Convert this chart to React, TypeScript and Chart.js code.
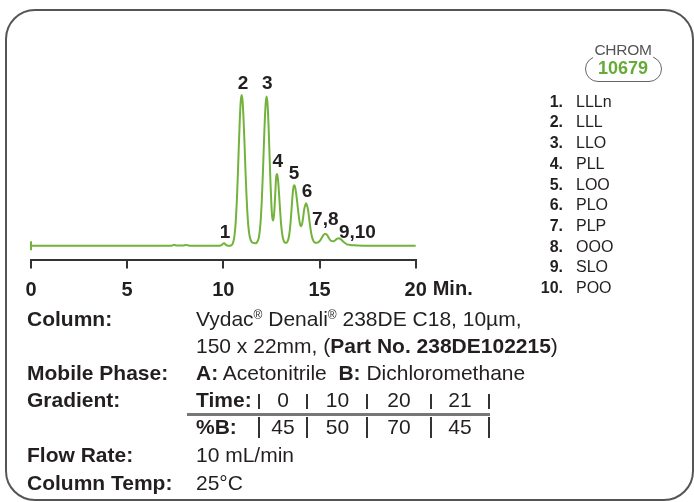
import React, { useEffect, useRef } from 'react';
import { Chart, registerables } from 'chart.js';

Chart.register(...registerables);

const FONT = '"Liberation Sans", Arial, Helvetica, sans-serif';

// Chromatogram trace (minutes, detector response in arbitrary units)
const retentionTimes = [
  0, 7.2, 7.35, 7.45, 7.55, 7.9, 8.05, 8.15, 8.3, 9.8, 9.9, 9.95, 10.0, 10.05, 10.1, 10.15, 10.25, 10.4,
  10.45, 10.5, 10.55, 10.6, 10.65, 10.7, 10.75, 10.8, 10.85, 10.9, 10.95, 11.0, 11.05, 11.1, 11.15, 11.2,
  11.25, 11.3, 11.35, 11.4, 11.45, 11.5, 11.55, 11.6, 11.65, 11.7, 11.75, 11.8, 11.85, 11.9, 11.95, 12.0,
  12.05, 12.1, 12.15, 12.2, 12.25, 12.3, 12.35, 12.4, 12.45, 12.5, 12.55, 12.6, 12.65, 12.7, 12.75, 12.8,
  12.85, 12.9, 12.95, 13.0, 13.05, 13.1, 13.15, 13.2, 13.25, 13.3, 13.35, 13.4, 13.45, 13.5, 13.55, 13.6,
  13.65, 13.7, 13.75, 13.8, 13.85, 13.9, 13.95, 14.0, 14.05, 14.1, 14.15, 14.2, 14.25, 14.3, 14.35, 14.4,
  14.45, 14.5, 14.55, 14.6, 14.65, 14.7, 14.75, 14.8, 14.9, 15.0, 15.1, 15.2, 15.3, 15.4, 15.5, 15.6,
  15.7, 15.8, 15.9, 16.0, 16.1, 16.2, 16.3, 16.4, 16.6, 16.8, 17.0, 17.5, 20,
];
const detectorSignal = [
  0, 0, 0.3, 1, 0.2, 0.2, 0.8, 0.4, 0, 0, 0.5, 1.3, 2.3, 2.4, 1.5, 0.6, 0.1, 0.3,
  1, 2.9, 6.6, 13.7, 25.8, 44, 68.7, 96.6, 123, 143, 150, 144, 126, 102, 75, 51.5,
  32.6, 19.5, 11.4, 7, 4.5, 3.3, 2.8, 2.6, 2.5, 2.5, 3.6, 5.3, 8.9, 15.9, 27.5, 45.5,
  69.5, 96.5, 122.5, 141.5, 148.5, 140.5, 119.5, 91, 62.8, 40.2, 27, 25.1, 34.5, 52.5, 69, 71.5,
  64, 50.5, 35.5, 22, 13, 7.4, 4.5, 3.2, 3, 3.3, 4.8, 8.2, 14.5, 24.5, 37.5, 50.5,
  59, 60.2, 56.5, 50, 41.5, 32.8, 25.3, 20.5, 19.5, 22.3, 28.3, 35.8, 40, 42.3, 40, 36,
  29, 21.3, 14.6, 9.5, 6.3, 4.3, 3.3, 2.9, 3.1, 4.5, 7.25, 10.5, 12, 10.5, 7.25, 4.9,
  4.35, 5.2, 6.8, 7.5, 6.6, 4.7, 3, 1.7, 0.8, 0.4, 0.2, 0, 0,
];
const injectionTimes = [0];
const injectionSignal = [0];

const axisTicks = [0, 5, 10, 15, 20];
const axisUnit = 'Min.';

const peakLabels = ['1', '2', '3', '4', '5', '6', '7,8', '9,10'];
const peakLabelTimes = [10.09, 11.02, 12.28, 12.83, 13.68, 14.35, 15.3, 16.97];
const peakLabelHeights = [12.6, 161, 161, 83.5, 72, 53.5, 26, 12.6];

const compoundNumbers = ['1.', '2.', '3.', '4.', '5.', '6.', '7.', '8.', '9.', '10.'];
const compoundNames = ['LLLn', 'LLL', 'LLO', 'PLL', 'LOO', 'PLO', 'PLP', 'OOO', 'SLO', 'POO'];

const gradientTimes = ['0', '10', '20', '21'];
const gradientPercentB = ['45', '50', '70', '45'];

const TEXT = '#231f20';

const labelPlugin = {
  id: 'peakLabels',
  afterDatasetsDraw(chart: any) {
    const { ctx, scales, chartArea } = chart;
    const x = scales.x;
    const y = scales.y;
    ctx.save();
    ctx.fillStyle = TEXT;
    ctx.font = `bold 19px ${FONT}`;
    ctx.textAlign = 'center';
    ctx.textBaseline = 'middle';
    peakLabels.forEach((t, i) => {
      ctx.fillText(t, x.getPixelForValue(peakLabelTimes[i]), y.getPixelForValue(peakLabelHeights[i]));
    });
    ctx.font = `bold 20px ${FONT}`;
    ctx.textAlign = 'left';
    ctx.fillText(axisUnit, x.getPixelForValue(axisTicks[axisTicks.length - 1]) + 17, chartArea.bottom + 30);
    ctx.restore();
  },
};

function ChromChart() {
  const ref = useRef<HTMLCanvasElement>(null);
  useEffect(() => {
    if (!ref.current) return;
    const chart = new Chart(ref.current, {
      type: 'line',
      data: {
        datasets: [
          {
            data: retentionTimes.map((t, i) => ({ x: t, y: detectorSignal[i] })),
            borderColor: '#72b33c',
            borderWidth: 2,
            pointRadius: 0,
            fill: false,
            cubicInterpolationMode: 'monotone',
            clip: false as any,
          },
          {
            data: injectionTimes.map((t, i) => ({ x: t, y: injectionSignal[i] })),
            showLine: false,
            pointStyle: 'line',
            rotation: 90,
            pointRadius: 4.5,
            borderColor: '#72b33c',
            borderWidth: 2,
            clip: false as any,
          },
        ],
      },
      options: {
        animation: false,
        responsive: false,
        events: [],
        layout: { padding: { left: 31, right: 278.3, top: 70, bottom: 202.5 } },
        plugins: { legend: { display: false }, tooltip: { enabled: false } },
        scales: {
          x: {
            type: 'linear',
            min: 0,
            max: 20,
            afterBuildTicks: (s: any) => {
              s.ticks = axisTicks.map((v) => ({ value: v }));
            },
            afterFit: (s: any) => {
              s.height = 40;
            },
            grid: { drawOnChartArea: false, drawTicks: true, tickLength: 9, color: '#333', lineWidth: 2 },
            border: { display: true, color: '#333', width: 2 },
            ticks: {
              color: TEXT,
              font: { family: FONT, size: 20, weight: 'bold' },
              padding: 10,
              maxRotation: 0,
              callback: (v: any) => String(v),
            },
          },
          y: { type: 'linear', display: false, min: -13.7, max: 175 },
        },
      },
      plugins: [labelPlugin],
    } as any);
    return () => chart.destroy();
  }, []);
  return (
    <canvas
      ref={ref}
      width={694}
      height={502}
      style={{ position: 'absolute', left: 0, top: 0, width: 694, height: 502 }}
    />
  );
}

const abs = (left: number, centerY: number, extra: React.CSSProperties = {}): React.CSSProperties => ({
  position: 'absolute',
  left,
  top: centerY - 12,
  lineHeight: '24px',
  whiteSpace: 'nowrap',
  ...extra,
});

const Reg = () => <span style={{ fontSize: 12, position: 'relative', top: -7 }}>®</span>;

export default function App() {
  const rows = [319, 346, 373, 400, 427, 455, 483];
  const seps = [259.3, 307.3, 367.3, 431, 489];
  const centers = [283, 337.5, 399, 460];
  const labelStyle: React.CSSProperties = { fontWeight: 'bold', fontSize: 21 };
  const valStyle: React.CSSProperties = { fontSize: 21 };
  return (
    <div
      style={{
        position: 'absolute',
        left: 0,
        top: 0,
        width: 694,
        height: 502,
        background: '#fff',
        overflow: 'hidden',
        fontFamily: FONT,
        color: TEXT,
      }}
    >
      <div
        style={{
          position: 'absolute',
          left: 5,
          top: 9,
          width: 689,
          height: 492,
          boxSizing: 'border-box',
          border: '2px solid #555',
          borderRadius: 30,
        }}
      />
      <ChromChart />

      {/* badge */}
      <div
        style={{
          position: 'absolute',
          left: 585,
          top: 56,
          width: 77,
          height: 26,
          boxSizing: 'border-box',
          border: '1.5px solid #666',
          borderRadius: 13,
        }}
      />
      <div style={{ position: 'absolute', left: 592, top: 41, width: 62, textAlign: 'center', lineHeight: '18px' }}>
        <span style={{ background: '#fff', fontSize: 15.5, color: '#555', letterSpacing: -0.3, padding: '0 1px' }}>CHROM</span>
      </div>
      <div
        style={{
          position: 'absolute',
          left: 593,
          top: 57,
          width: 60,
          textAlign: 'center',
          lineHeight: '22px',
          fontSize: 18,
          fontWeight: 'bold',
          color: '#66aa3a',
        }}
      >
        10679
      </div>

      {/* compound legend */}
      {compoundNames.map((name, i) => {
        const cy = 101.7 + 20.7 * i;
        return (
          <React.Fragment key={name + i}>
            <div
              style={{
                position: 'absolute',
                left: 523,
                width: 40,
                textAlign: 'right',
                top: cy - 10,
                lineHeight: '20px',
                fontSize: 16,
                fontWeight: 'bold',
              }}
            >
              {compoundNumbers[i]}
            </div>
            <div style={{ position: 'absolute', left: 576, top: cy - 10, lineHeight: '20px', fontSize: 16 }}>{name}</div>
          </React.Fragment>
        );
      })}

      {/* conditions */}
      <div style={abs(27, rows[0], labelStyle)}>Column:</div>
      <div style={abs(196, rows[0], valStyle)}>
        Vydac<Reg /> Denali<Reg /> 238DE C18, 10µm,
      </div>
      <div style={abs(196, rows[1], valStyle)}>
        150 x 22mm, (<b>Part No. 238DE102215</b>)
      </div>
      <div style={abs(27, rows[2], labelStyle)}>Mobile Phase:</div>
      <div style={abs(196, rows[2], valStyle)}>
        <b>A:</b> Acetonitrile&nbsp; <b>B:</b> Dichloromethane
      </div>
      <div style={abs(27, rows[3], labelStyle)}>Gradient:</div>
      <div style={abs(196, rows[3], labelStyle)}>Time:</div>
      <div style={abs(196, rows[4], labelStyle)}>%B:</div>
      <div
        style={{ position: 'absolute', left: 187, top: 413, width: 303, height: 2.5, background: '#777' }}
      />
      {seps.map((sx, i) => (
        <React.Fragment key={'s' + i}>
          <div style={{ position: 'absolute', left: sx - 1, top: 394, width: 2, height: 15, background: '#333' }} />
          <div style={{ position: 'absolute', left: sx - 1, top: 417, width: 2, height: 21, background: '#333' }} />
        </React.Fragment>
      ))}
      {gradientTimes.map((t, i) => (
        <div key={'t' + i} style={abs(centers[i] - 30, rows[3], { ...valStyle, width: 60, textAlign: 'center' })}>
          {t}
        </div>
      ))}
      {gradientPercentB.map((b, i) => (
        <div key={'b' + i} style={abs(centers[i] - 30, rows[4], { ...valStyle, width: 60, textAlign: 'center' })}>
          {b}
        </div>
      ))}
      <div style={abs(27, rows[5], labelStyle)}>Flow Rate:</div>
      <div style={abs(196, rows[5], valStyle)}>10 mL/min</div>
      <div style={abs(27, rows[6], labelStyle)}>Column Temp:</div>
      <div style={abs(196, rows[6], valStyle)}>25°C</div>
    </div>
  );
}
